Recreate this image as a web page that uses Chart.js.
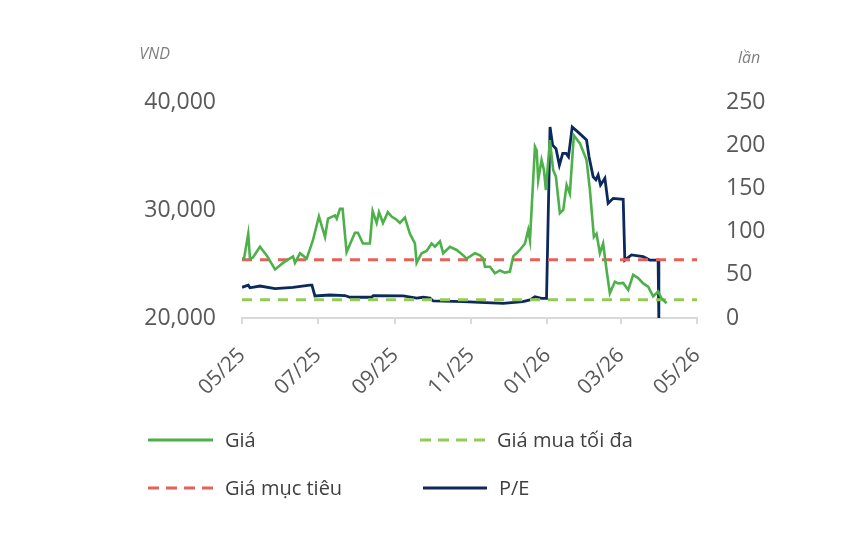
<!DOCTYPE html>
<html>
<head>
<meta charset="utf-8">
<script src="https://cdn.jsdelivr.net/npm/chart.js@4.4.1/dist/chart.umd.min.js"></script>
<style>
  body { margin: 0; background: #fff; }
  .wrap { position: relative; width: 861px; height: 534px; font-family: "Open Sans", sans-serif; }
  .legend { position: absolute; display: flex; align-items: center; font-size: 20px; color: #404040; }
  .legend svg { margin-right: 12px; }
</style>
</head>
<body>
<div class="wrap">
  <canvas id="myChart" width="861" height="534"></canvas>
  <div class="legend" style="left:148px; top:426px;"><svg width="65" height="6"><line x1="0" y1="3" x2="65" y2="3" stroke="#4db04a" stroke-width="3"/></svg>Giá</div>
  <div class="legend" style="left:420px; top:426px;"><svg width="65" height="6"><line x1="0" y1="3" x2="65" y2="3" stroke="#92cc55" stroke-width="3" stroke-dasharray="11 7"/></svg>Giá mua tối đa</div>
  <div class="legend" style="left:148px; top:474px;"><svg width="65" height="6"><line x1="0" y1="3" x2="65" y2="3" stroke="#e8605a" stroke-width="3" stroke-dasharray="11 7"/></svg>Giá mục tiêu</div>
  <div class="legend" style="left:423px; top:474px;"><svg width="64" height="6"><line x1="0" y1="3" x2="64" y2="3" stroke="#0b2a5b" stroke-width="3"/></svg>P/E</div>
</div>
<script>
// days counted from 01/05/2025
const tickDays = [0, 61, 123, 184, 245, 304, 365];
const tickLabels = ['05/25', '07/25', '09/25', '11/25', '01/26', '03/26', '05/26'];

const priceDays = [0, 1.6, 5, 6.4, 8.8, 14.4, 19.8, 26.5, 32.9, 40.9, 42.5, 46.5, 51.9, 56.9, 61.7, 66.6, 69, 74.6, 76, 78.6,
  80.7, 83.9, 90.6, 93, 97, 102.6, 104.8, 108, 109.9, 113.1, 117, 120, 124, 126.7, 130.7, 134.7, 138.7, 140.1, 144.1, 148.1,
  152.1, 154.8, 158.8, 161.4, 166.8, 172.2, 177.5, 180.2, 186.9, 190.9, 193.5, 194.9, 198.9, 202.9, 206.9, 210.9, 214.9, 217.6, 222.9, 227,
  229.6, 231, 235, 236.4, 237.6, 240.3, 242.2, 243.8, 247, 249.6, 251.8, 255, 257.7, 260.4, 263, 266.2, 271.1, 276.4, 279.1, 282.3,
  284.4, 287.1, 289.7, 292.5, 295.1, 299.1, 301.8, 305.8, 309.8, 313.8, 317.8, 321.8, 325.8, 329.8, 333.8, 336.6, 340.6];
const priceValues = [25500, 25500, 27800, 25500, 25600, 26600, 25800, 24500, 25100, 25700, 25100, 26000, 25500, 27200, 29400, 27500, 29200, 29500, 29200, 30100,
  30100, 26100, 27900, 27900, 26900, 26900, 29900, 28800, 29800, 28800, 29800, 29400, 29100, 28800, 29300, 27800, 26900, 25100, 26000, 26200,
  26900, 26600, 27100, 26000, 26600, 26300, 25800, 25500, 26000, 25800, 25500, 24750, 24750, 24140, 24400, 24200, 24300, 25700, 26300, 26900,
  28150, 27200, 35860, 35500, 32780, 34630, 33700, 31850, 36480, 33700, 33100, 29700, 30000, 32300, 31500, 36900, 36170, 34630, 31850, 27500,
  27800, 26000, 26900, 24400, 22300, 23360, 23200, 23250, 22600, 24000, 23700, 23200, 22900, 22000, 22450, 21800, 21360];

const peDays = [0, 5, 6.4, 14.4, 26.5, 40.9, 54.5, 56.1, 58.5, 70.6, 82.6, 86.6, 104, 105.3, 129.4, 140.1, 145.4, 150.8, 153.4, 177.5,
  190.9, 209.5, 225.3, 231, 235, 240.3, 244.3, 247.1, 249.2, 251.9, 254.6, 257.3, 260, 261.9, 264.9, 270.7, 276.4, 278.4, 281.7, 283.9,
  285.7, 287.6, 291.1, 293.7, 297.8, 305.8, 307.1, 312.4, 321.8, 327.1, 333.8, 334.4];
const peValues = [35.5, 38, 35, 37, 34, 35.5, 38, 38, 25.5, 26.6, 26, 24, 24, 26, 25.5, 23, 24, 23, 19.7, 19,
  18, 17, 19, 21, 24.6, 22.8, 22.8, 221, 200, 196, 177, 190.6, 190.6, 186.7, 221, 213.7, 206, 186.7, 163.5, 160,
  165.5, 154, 161.7, 132.7, 138.5, 137.3, 67, 73, 71, 67, 67, -3];

const targetPrice = 25400;
const maxBuyPrice = 21700;

const grey = '#595959';

const axisTitles = {
  id: 'axisTitles',
  afterDraw(chart) {
    const c = chart.ctx;
    c.save();
    c.font = 'italic 16px "Open Sans"';
    c.fillStyle = '#7f7f7f';
    c.textBaseline = 'middle';
    c.textAlign = 'right';
    c.fillText('VND', 170, 54);
    c.textAlign = 'left';
    c.fillText('lần', 738, 58);
    c.restore();
  }
};

const ctx = document.getElementById('myChart');

new Chart(ctx, {
  type: 'line',
  data: {
    datasets: [
      {
        label: 'Giá',
        data: priceDays.map((d, i) => ({ x: d, y: priceValues[i] })),
        borderColor: '#4db04a',
        borderWidth: 2.6,
        yAxisID: 'y'
      },
      {
        label: 'Giá mục tiêu',
        data: [{ x: 0, y: targetPrice }, { x: 365, y: targetPrice }],
        borderColor: '#e8605a',
        borderWidth: 3,
        borderDash: [10, 8],
        yAxisID: 'y'
      },
      {
        label: 'Giá mua tối đa',
        data: [{ x: 0, y: maxBuyPrice }, { x: 365, y: maxBuyPrice }],
        borderColor: '#92cc55',
        borderWidth: 3,
        borderDash: [10, 8],
        yAxisID: 'y'
      },
      {
        label: 'P/E',
        data: peDays.map((d, i) => ({ x: d, y: peValues[i] })),
        borderColor: '#0b2a5b',
        borderWidth: 2.8,
        yAxisID: 'y1'
      }
    ]
  },
  options: {
    responsive: false,
    animation: false,
    elements: { point: { radius: 0 }, line: { tension: 0 } },
    layout: { padding: { top: 102, left: 0, right: 0, bottom: 0 } },
    plugins: { legend: { display: false }, tooltip: { enabled: false } },
    scales: {
      x: {
        type: 'linear',
        min: 0,
        max: 365,
        afterBuildTicks: (scale) => { scale.ticks = tickDays.map(v => ({ value: v })); },
        afterFit: (scale) => { scale.height = 216; },
        ticks: {
          autoSkip: false,
          maxRotation: 45,
          minRotation: 45,
          padding: 19,
          color: grey,
          font: { family: 'Open Sans', size: 21 },
          callback: (v) => tickLabels[tickDays.indexOf(v)]
        },
        grid: { drawOnChartArea: false, drawTicks: true, tickLength: 6, color: '#d9d9d9', lineWidth: 2 },
        border: { color: '#d9d9d9', width: 2 }
      },
      y: {
        position: 'left',
        min: 20000,
        max: 40000,
        afterBuildTicks: (scale) => { scale.ticks = [20000, 30000, 40000].map(v => ({ value: v })); },
        afterFit: (scale) => { scale.width = 242; },
        ticks: {
          padding: 26,
          color: grey,
          font: { family: 'Open Sans', size: 23 },
          callback: (v) => v.toLocaleString('en-US')
        },
        grid: { display: false, drawTicks: false },
        border: { display: false }
      },
      y1: {
        position: 'right',
        min: 0,
        max: 250,
        ticks: {
          stepSize: 50,
          padding: 29,
          color: grey,
          font: { family: 'Open Sans', size: 23 }
        },
        afterFit: (scale) => { scale.width = 164; },
        grid: { display: false, drawTicks: false },
        border: { display: false }
      }
    }
  },
  plugins: [axisTitles]
});
</script>
</body>
</html>
